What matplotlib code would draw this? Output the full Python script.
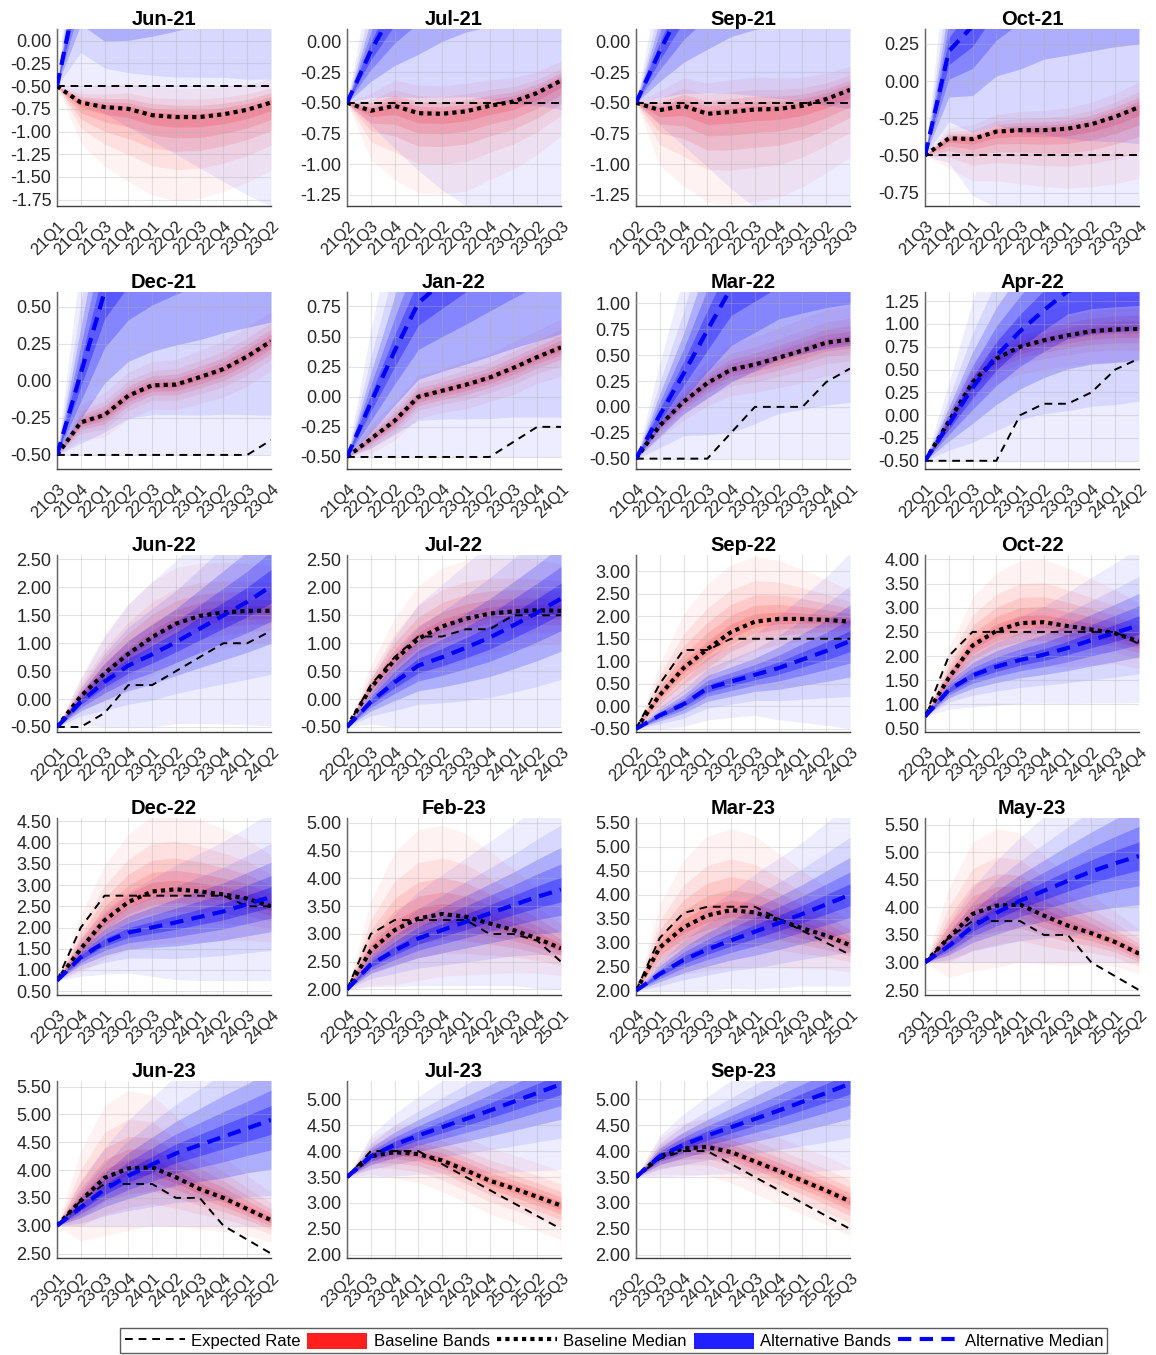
import matplotlib
matplotlib.use("Agg")
import matplotlib.pyplot as plt
from matplotlib.lines import Line2D
from matplotlib.patches import Patch
from matplotlib.ticker import MultipleLocator, FormatStrFormatter
from matplotlib.transforms import ScaledTranslation
import numpy as np

plt.rcParams["font.family"] = ["Liberation Sans", "DejaVu Sans"]

titles = ["Jun-21", "Jul-21", "Sep-21", "Oct-21", "Dec-21", "Jan-22", "Mar-22",
          "Apr-22", "Jun-22", "Jul-22", "Sep-22", "Oct-22", "Dec-22", "Feb-23",
          "Mar-23", "May-23", "Jun-23", "Jul-23", "Sep-23"]
start_quarters = ["21Q1", "21Q2", "21Q2", "21Q3", "21Q3", "21Q4", "21Q4", "22Q1",
                  "22Q1", "22Q2", "22Q2", "22Q3", "22Q3", "22Q4", "22Q4", "23Q1",
                  "23Q1", "23Q2", "23Q2"]
ylims = [(-1.82, 0.13), (-1.34, 0.10), (-1.34, 0.10), (-0.84, 0.35), (-0.595, 0.60),
         (-0.60, 0.87), (-0.60, 1.11), (-0.59, 1.35), (-0.59, 2.58), (-0.59, 2.58),
         (-0.57, 3.36), (0.43, 4.09), (0.41, 4.58), (1.90, 5.09), (1.91, 5.60),
         (2.41, 5.62), (2.42, 5.60), (1.94, 5.35), (1.94, 5.35)]
ysteps = [0.25] * 8 + [0.5] * 11

expected = [
    [-0.5] * 10,
    [-0.5] * 10,
    [-0.5] * 10,
    [-0.5] * 10,
    [-0.5, -0.5, -0.5, -0.5, -0.5, -0.5, -0.5, -0.5, -0.5, -0.4],
    [-0.5, -0.5, -0.5, -0.5, -0.5, -0.5, -0.5, -0.375, -0.25, -0.25],
    [-0.5, -0.5, -0.5, -0.5, -0.25, 0.0, 0.0, 0.0, 0.24, 0.37],
    [-0.5, -0.5, -0.5, -0.5, 0.0, 0.125, 0.125, 0.25, 0.5, 0.62],
    [-0.5, -0.5, -0.25, 0.25, 0.25, 0.5, 0.75, 1.0, 1.0, 1.22],
    [-0.5, 0.25, 0.75, 1.12, 1.12, 1.25, 1.25, 1.5, 1.5, 1.5],
    [-0.5, 0.5, 1.25, 1.25, 1.5, 1.5, 1.5, 1.5, 1.5, 1.5],
    [0.75, 2.0, 2.5, 2.5, 2.5, 2.5, 2.5, 2.5, 2.5, 2.25],
    [0.75, 2.0, 2.75, 2.75, 2.75, 2.75, 2.75, 2.75, 2.5, 2.5],
    [2.0, 3.0, 3.25, 3.25, 3.25, 3.25, 3.0, 3.0, 2.88, 2.5],
    [2.0, 3.1, 3.62, 3.75, 3.75, 3.75, 3.5, 3.25, 3.0, 2.75],
    [3.0, 3.45, 3.75, 3.75, 3.75, 3.5, 3.5, 3.0, 2.75, 2.5],
    [3.0, 3.45, 3.75, 3.75, 3.75, 3.5, 3.5, 3.0, 2.75, 2.5],
    [3.5, 4.0, 4.0, 4.0, 3.75, 3.5, 3.25, 3.0, 2.75, 2.5],
    [3.5, 3.85, 4.0, 4.0, 3.75, 3.5, 3.25, 3.0, 2.75, 2.5],
]

base_median = [
    [-0.5, -0.68, -0.73, -0.75, -0.82, -0.84, -0.84, -0.81, -0.76, -0.68],
    [-0.5, -0.565, -0.525, -0.585, -0.59, -0.57, -0.525, -0.49, -0.42, -0.32],
    [-0.5, -0.56, -0.525, -0.59, -0.575, -0.555, -0.55, -0.525, -0.47, -0.395],
    [-0.5, -0.385, -0.39, -0.34, -0.33, -0.33, -0.32, -0.29, -0.24, -0.175],
    [-0.5, -0.28, -0.23, -0.1, -0.03, -0.025, 0.025, 0.08, 0.165, 0.267],
    [-0.5, -0.35, -0.2, 0.0, 0.05, 0.1, 0.16, 0.24, 0.33, 0.41],
    [-0.5, -0.18, 0.05, 0.23, 0.36, 0.41, 0.475, 0.545, 0.62, 0.65],
    [-0.5, -0.07, 0.36, 0.62, 0.75, 0.82, 0.875, 0.92, 0.94, 0.945],
    [-0.5, 0.05, 0.46, 0.81, 1.11, 1.35, 1.49, 1.55, 1.58, 1.58],
    [-0.5, 0.2, 0.7, 1.08, 1.3, 1.44, 1.53, 1.57, 1.59, 1.58],
    [-0.5, 0.25, 0.85, 1.27, 1.65, 1.88, 1.94, 1.94, 1.92, 1.88],
    [0.75, 1.55, 2.22, 2.52, 2.68, 2.7, 2.62, 2.55, 2.47, 2.3],
    [0.75, 1.5, 2.17, 2.6, 2.85, 2.9, 2.85, 2.78, 2.68, 2.5],
    [2.0, 2.7, 3.07, 3.28, 3.36, 3.31, 3.19, 3.07, 2.92, 2.74],
    [2.0, 2.9, 3.32, 3.57, 3.68, 3.63, 3.47, 3.3, 3.15, 2.95],
    [3.0, 3.45, 3.88, 4.03, 4.05, 3.85, 3.67, 3.53, 3.37, 3.16],
    [3.0, 3.45, 3.86, 4.03, 4.05, 3.87, 3.66, 3.5, 3.3, 3.1],
    [3.5, 3.9, 3.98, 3.94, 3.82, 3.63, 3.43, 3.28, 3.12, 2.95],
    [3.5, 3.9, 4.05, 4.08, 3.98, 3.8, 3.62, 3.43, 3.24, 3.03],
]

base_spread = [
    [0, 0.45, 0.65, 0.8, 0.88, 0.92, 0.9, 0.85, 0.8, 0.75],
    [0, 0.4, 0.6, 0.65, 0.65, 0.65, 0.6, 0.55, 0.5, 0.45],
    [0, 0.45, 0.65, 0.72, 0.75, 0.75, 0.72, 0.66, 0.6, 0.55],
    [0, 0.2, 0.28, 0.33, 0.36, 0.38, 0.4, 0.42, 0.45, 0.48],
    [0, 0.12, 0.15, 0.16, 0.16, 0.17, 0.18, 0.19, 0.2, 0.2],
    [0, 0.12, 0.16, 0.18, 0.18, 0.2, 0.2, 0.22, 0.22, 0.24],
    [0, 0.12, 0.18, 0.22, 0.25, 0.27, 0.29, 0.31, 0.32, 0.33],
    [0, 0.15, 0.22, 0.27, 0.3, 0.32, 0.34, 0.35, 0.36, 0.37],
    [0, 0.35, 0.7, 0.9, 1.0, 1.0, 0.95, 0.9, 0.85, 0.8],
    [0, 0.4, 0.75, 0.95, 1.05, 1.05, 1.0, 0.95, 0.9, 0.85],
    [0, 0.7, 1.2, 1.45, 1.5, 1.45, 1.3, 1.1, 0.9, 0.7],
    [0, 0.6, 1.0, 1.2, 1.3, 1.3, 1.2, 1.05, 0.9, 0.8],
    [0, 0.8, 1.3, 1.6, 1.8, 1.8, 1.7, 1.55, 1.4, 1.2],
    [0, 0.9, 1.4, 1.6, 1.6, 1.5, 1.3, 1.1, 0.9, 0.7],
    [0, 0.9, 1.4, 1.65, 1.7, 1.6, 1.4, 1.2, 1.0, 0.8],
    [0, 0.9, 1.3, 1.4, 1.3, 1.1, 0.9, 0.7, 0.55, 0.45],
    [0, 0.9, 1.3, 1.4, 1.3, 1.1, 0.9, 0.75, 0.6, 0.5],
    [0, 0.35, 0.5, 0.55, 0.6, 0.62, 0.64, 0.65, 0.66, 0.66],
    [0, 0.35, 0.5, 0.55, 0.6, 0.62, 0.64, 0.65, 0.66, 0.66],
]

# baseline bands are lopsided: share of the spread used below / above the median
base_down = [1.0, 1.0, 1.0, 1.0, 1.0, 1.0, 1.0, 1.0, 0.7, 0.7, 0.7, 0.7, 0.7, 0.7,
             0.7, 0.8, 0.8, 1.0, 1.0]
base_up = [0.35, 0.35, 0.35, 0.35, 1.0, 1.0, 1.0, 1.0, 1.0, 1.0, 1.0, 1.0, 1.0, 1.0,
           1.0, 1.0, 1.0, 1.0, 1.0]

alt_median = [
    [-0.5, 0.76, 0.55, 0.67, 0.85, 1.05, 1.3, 1.55, 1.75, 1.96],
    [-0.5, -0.08, 0.27, 0.55, 0.84, 1.06, 1.22, 1.32, 1.4, 1.46],
    [-0.5, -0.08, 0.3, 0.6, 0.9, 1.1, 1.25, 1.35, 1.42, 1.48],
    [-0.5, 0.2, 0.37, 0.65, 0.88, 1.09, 1.22, 1.33, 1.42, 1.5],
    [-0.5, 0.05, 0.6, 0.85, 1.0, 1.12, 1.23, 1.35, 1.46, 1.57],
    [-0.5, -0.05, 0.38, 0.78, 0.95, 1.12, 1.3, 1.47, 1.64, 1.81],
    [-0.5, -0.08, 0.32, 0.74, 1.15, 1.3, 1.45, 1.52, 1.58, 1.62],
    [-0.5, -0.1, 0.3, 0.65, 0.92, 1.15, 1.36, 1.42, 1.44, 1.45],
    [-0.5, -0.05, 0.31, 0.6, 0.8, 1.02, 1.26, 1.5, 1.74, 2.02],
    [-0.5, -0.05, 0.3, 0.6, 0.75, 0.92, 1.1, 1.32, 1.55, 1.8],
    [-0.5, -0.2, 0.05, 0.4, 0.55, 0.7, 0.85, 1.04, 1.23, 1.45],
    [0.75, 1.3, 1.6, 1.78, 1.92, 2.03, 2.17, 2.33, 2.48, 2.64],
    [0.75, 1.3, 1.65, 1.88, 2.0, 2.12, 2.25, 2.38, 2.55, 2.72],
    [2.0, 2.45, 2.7, 2.92, 3.07, 3.22, 3.37, 3.52, 3.67, 3.8],
    [2.0, 2.35, 2.64, 2.86, 3.05, 3.23, 3.41, 3.6, 3.8, 4.0],
    [3.0, 3.3, 3.65, 3.9, 4.12, 4.3, 4.48, 4.65, 4.8, 4.93],
    [3.0, 3.33, 3.65, 3.9, 4.1, 4.3, 4.45, 4.6, 4.75, 4.9],
    [3.5, 3.9, 4.12, 4.3, 4.46, 4.62, 4.78, 4.95, 5.12, 5.29],
    [3.5, 3.9, 4.12, 4.3, 4.46, 4.62, 4.78, 4.95, 5.12, 5.3],
]

alt_spread = [
    [0, 1.41, 1.35, 1.62, 1.95, 2.3, 2.7, 3.1, 3.45, 3.78],
    [0, 0.6, 1.14, 1.6, 2.05, 2.4, 2.68, 2.9, 3.05, 3.2],
    [0, 0.6, 1.15, 1.62, 2.1, 2.45, 2.72, 2.92, 3.08, 3.22],
    [0, 0.75, 1.14, 1.5, 1.95, 2.3, 2.55, 2.75, 2.9, 3.05],
    [0, 0.75, 1.5, 1.75, 1.95, 2.14, 2.32, 2.5, 2.68, 2.86],
    [0, 0.6, 1.1, 1.55, 1.8, 2.07, 2.35, 2.6, 2.87, 3.14],
    [0, 0.5, 0.95, 1.6, 2.22, 2.32, 2.4, 2.45, 2.48, 2.5],
    [0, 0.45, 0.95, 1.3, 1.54, 1.8, 2.08, 2.1, 2.1, 2.06],
    [0, 0.4, 0.81, 1.1, 1.3, 1.46, 1.7, 1.95, 2.2, 2.5],
    [0, 0.4, 0.8, 1.1, 1.3, 1.5, 1.7, 1.9, 2.1, 2.3],
    [0, 0.3, 0.5, 0.7, 0.8, 0.9, 1.15, 1.4, 1.65, 1.95],
    [0, 0.4, 0.65, 0.8, 0.9, 1.0, 1.15, 1.3, 1.45, 1.6],
    [0, 0.45, 0.75, 0.95, 1.15, 1.35, 1.5, 1.65, 1.82, 2.0],
    [0, 0.4, 0.65, 0.85, 1.0, 1.15, 1.3, 1.45, 1.65, 1.85],
    [0, 0.4, 0.65, 0.85, 1.0, 1.2, 1.35, 1.5, 1.7, 1.9],
    [0, 0.4, 0.7, 0.95, 1.15, 1.35, 1.55, 1.75, 1.95, 2.15],
    [0, 0.45, 0.75, 1.0, 1.2, 1.4, 1.6, 1.8, 1.95, 2.15],
    [0, 0.4, 0.6, 0.75, 0.9, 1.05, 1.2, 1.35, 1.5, 1.65],
    [0, 0.4, 0.6, 0.75, 0.9, 1.05, 1.2, 1.35, 1.5, 1.65],
]

alt_floor = [None, None, None, None, -0.5, -0.5, -0.5, -0.5, -0.5, -0.5, -0.5,
             0.75, 0.75, 2.0, 2.0, 3.0, 3.0, 3.5, 3.5]

# fan chart: outer band to inner band, as a share of the outer half-width
band_levels = [1.0, 0.63, 0.41, 0.25, 0.12]
base_alphas = [0.05, 0.07, 0.10, 0.12, 0.15]
alt_alphas = [0.07, 0.09, 0.19, 0.23, 0.33]


def quarter_labels(start, n=10):
    yy, q = int(start[:2]), int(start[3])
    out = []
    for _ in range(n):
        out.append(f"{yy}Q{q}")
        q += 1
        if q > 4:
            q = 1
            yy += 1
    return out


def draw_bands(ax, x, med, spread, color, alphas, floor=None, down=1.0, up=1.0):
    med = np.asarray(med, dtype=float)
    spread = np.asarray(spread, dtype=float)
    for lvl, a in zip(band_levels, alphas):
        lo = med - lvl * spread * down
        hi = med + lvl * spread * up
        if floor is not None:
            lo = np.maximum(lo, floor)
        ax.fill_between(x, lo, hi, color=color, alpha=a, linewidth=0, zorder=1)


W, H = 1156, 1355
fig = plt.figure(figsize=(W / 100, H / 100), dpi=100)

col_left = [57, 347, 636, 925]
row_top = [29, 292, 555, 818, 1081]
ax_w, ax_h = 214, 177

x = np.arange(10)
shift = ScaledTranslation(5 / 100, 0, fig.dpi_scale_trans)
for i, title in enumerate(titles):
    r, c = divmod(i, 4)
    ax = fig.add_axes([col_left[c] / W, 1 - (row_top[r] + ax_h) / H, ax_w / W, ax_h / H])

    draw_bands(ax, x, base_median[i], base_spread[i], (1, 0, 0), base_alphas,
               down=base_down[i], up=base_up[i])
    draw_bands(ax, x, alt_median[i], alt_spread[i], (0, 0, 1), alt_alphas, alt_floor[i])

    ax.plot(x, expected[i], color="black", lw=1.4, ls=(0, (4, 3)), zorder=4)
    ax.plot(x, base_median[i], color="black", lw=3, ls=(0, (1, 1)), zorder=5)
    ax.plot(x, alt_median[i], color=(0, 0, 1), lw=3, ls=(0, (3.2, 2)), zorder=6)

    ax.set_xlim(0, 9)
    ax.set_ylim(*ylims[i])
    ax.yaxis.set_major_locator(MultipleLocator(ysteps[i]))
    ax.yaxis.set_major_formatter(FormatStrFormatter("%.2f"))
    ax.set_xticks(x)
    ax.set_xticklabels(quarter_labels(start_quarters[i]), rotation=45, ha="right",
                       va="top", rotation_mode="anchor")
    for lab in ax.get_xticklabels():
        lab.set_transform(lab.get_transform() + shift)
    ax.tick_params(colors="#262626", length=0)
    ax.tick_params(axis="y", labelsize=13, pad=4)
    ax.tick_params(axis="x", labelsize=12, pad=9)
    ax.set_axisbelow(False)
    ax.grid(True, color="#b0b0b0", alpha=0.35, lw=0.8, zorder=2)
    for side in ["top", "right"]:
        ax.spines[side].set_visible(False)
    for side in ["left", "bottom"]:
        ax.spines[side].set_color("#404040")
        ax.spines[side].set_linewidth(1.0)
    ax.set_title(title, fontsize=14.5, fontweight="bold", pad=3)

handles = [
    Line2D([], [], color="black", lw=1.4, ls=(0, (4, 3))),
    Patch(facecolor=(1, 0.12, 0.12), edgecolor="none"),
    Line2D([], [], color="black", lw=3, ls=(0, (1, 1))),
    Patch(facecolor=(0.12, 0.12, 1), edgecolor="none"),
    Line2D([], [], color=(0, 0, 1), lw=3, ls=(0, (3.2, 2))),
]
labels = ["Expected Rate", "Baseline Bands", "Baseline Median", "Alternative Bands",
          "Alternative Median"]
leg = fig.legend(handles, labels, loc="lower center", bbox_to_anchor=(0.531, 0.0),
                 ncol=5, fontsize=12, frameon=True, fancybox=False, handlelength=3.6,
                 handleheight=1.1, handletextpad=0.4, columnspacing=0.4,
                 borderpad=0.25, borderaxespad=0.1)
leg.get_frame().set_edgecolor("#333333")
leg.get_frame().set_linewidth(1.0)

fig.savefig("out.png", dpi=100)
